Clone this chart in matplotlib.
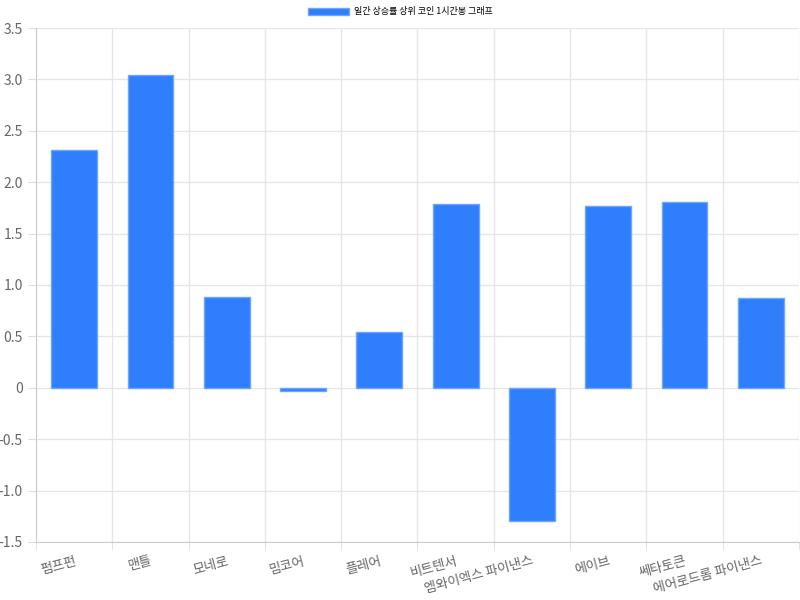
import matplotlib.pyplot as plt
from matplotlib.ticker import FuncFormatter

plt.rcParams['font.family'] = ['Noto Sans CJK KR', 'DejaVu Sans']

coins = ['펌프펀', '맨틀', '모네로', '밈코어', '플레어', '비트텐서',
         '엠와이엑스 파이낸스', '에이브', '쎄타토큰', '에어로드롬 파이낸스']
change = [2.315, 3.04, 0.885, -0.03, 0.545, 1.785, -1.295, 1.77, 1.805, 0.875]

fig = plt.figure(figsize=(8, 6), dpi=100)
ax = fig.add_axes([0.045, 0.0967, 0.9537, 0.8566])

x = range(len(coins))
ax.bar(x, change, width=0.6, color='#2F7EFC', edgecolor='#6FA6FD', linewidth=1,
       label='일간 상승률 상위 코인 1시간봉 그래프', zorder=3)

ax.set_xlim(-0.5, len(coins) - 0.5)
ax.set_ylim(-1.5, 3.5)
ax.set_yticks([-1.5 + 0.5 * i for i in range(11)])
ax.yaxis.set_major_formatter(FuncFormatter(lambda v, p: '0' if abs(v) < 1e-9 else f'{v:.1f}'))

ax.set_xticks(list(x))
ax.set_xticklabels(coins, rotation=15, ha='right', rotation_mode='anchor')
for lab in ax.get_xticklabels():
    lab.set_x(lab.get_position()[0])
ax.set_xticks([i - 0.5 for i in range(len(coins) + 1)], minor=True)
ax.grid(True, which='minor', axis='x', color='#e6e6e6', linewidth=1, zorder=0)
ax.grid(True, which='major', axis='y', color='#e6e6e6', linewidth=1, zorder=0)
ax.tick_params(axis='x', which='major', length=0, pad=9, labelsize=9.5, labelcolor='#666666')
ax.tick_params(axis='x', which='minor', length=6, color='#dddddd')
ax.tick_params(axis='y', length=6, color='#dddddd', labelsize=10, labelcolor='#666666')

for s in ['top', 'right']:
    ax.spines[s].set_visible(False)
for s in ['left', 'bottom']:
    ax.spines[s].set_color('#cccccc')

fig.legend(loc='upper center', bbox_to_anchor=(0.5, 1.0), frameon=False,
           fontsize=6.5, handlelength=4.6, handleheight=0.8, handletextpad=0.5,
           borderaxespad=0.4)

fig.savefig('out.png', dpi=100)
